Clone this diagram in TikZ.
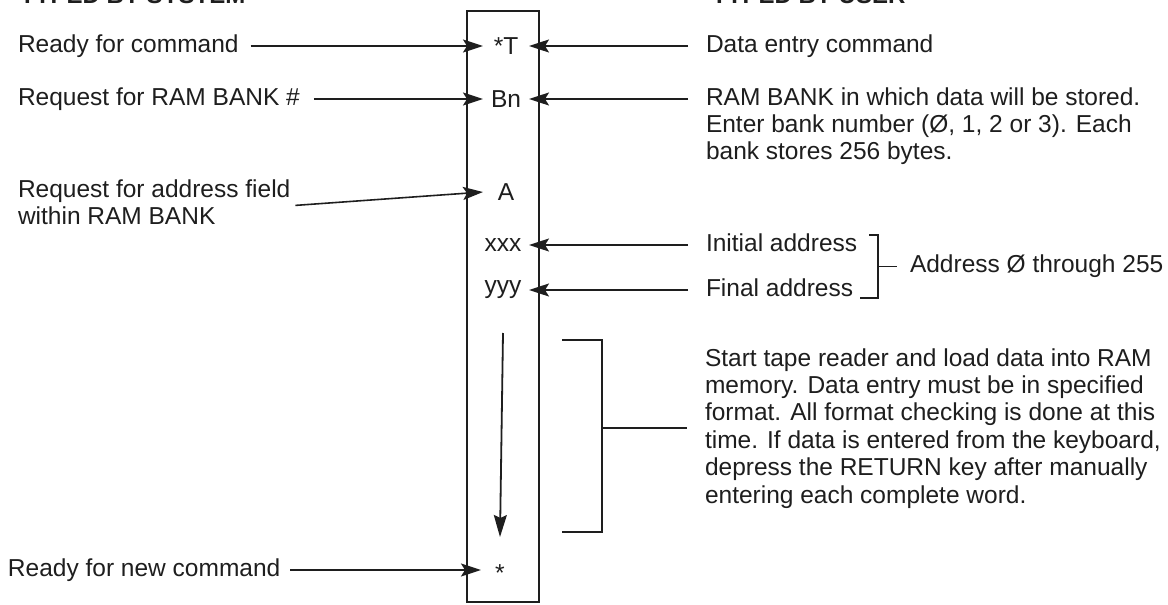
\documentclass[tikz,border=0pt]{standalone}
\usepackage{fontspec}
\setmainfont{Liberation Sans}
\usetikzlibrary{arrows.meta}
\definecolor{ink}{HTML}{1E1E1E}
\newcommand{\fstrut}{\rule{0pt}{19pt}}
\newcommand{\lstrut}{\rule[-8.4pt]{0pt}{8.4pt}}
\begin{document}
\begin{tikzpicture}[x=1pt,y=-1pt,
  every node/.style={inner sep=0pt, outer sep=0pt, text=ink,
    font=\fontsize{24.5}{27.4}\selectfont},
  lbl/.style={anchor=west, text height=18pt, text depth=5.2pt},
  para/.style={anchor=north west, align=left},
  head/.style={anchor=base west, font=\fontsize{24}{27}\selectfont\bfseries},
  colbox/.style={draw=ink, line width=2.4pt, minimum width=72pt, minimum height=591pt},
  conn/.style={draw=ink, line width=1.6pt},
  arr/.style={conn, -{Stealth[length=20pt,width=13pt,inset=4pt]}},
  darr/.style={conn, line width=1.8pt, -{Stealth[length=22pt,width=13pt,inset=3pt]}}
]
\useasboundingbox (0,0) rectangle (1168,605);
\fill[white] (0,0) rectangle (1168,605);
\clip (0,0) rectangle (1168,605);

% headings (cut by the top edge, as in the reference)
\node[head] (hs) at (20,4) {TYPED BY SYSTEM};
\node[head] (hu) at (712,4) {TYPED BY USER};

% column box
\node[colbox] (col) at (503,306.5) {};

% entries in the column
\node (eT) at (506,46) {*T};
\node (eB) at (506,99) {Bn};
\node (eA) at (506,192) {A};
\node (eX) at (503,245) {xxx};
\node (eY) at (503,290) {yyy};
\node (eS) at (500,573) {*};

% arrow tip coordinates
\coordinate (t1) at (483,46);
\coordinate (t2) at (483,99);
\coordinate (t3) at (483,192);
\coordinate (t6) at (481,570);
\coordinate (u1) at (529,46);
\coordinate (u2) at (529,99);
\coordinate (u4) at (529,245);
\coordinate (u5) at (529,290);

% left labels
\node[lbl] (l1) at (18,46) {Ready for command};
\node[lbl] (l2) at (18,99) {Request for RAM BANK \#};
\node[para] (l3) at (18,178) {\fstrut Request for address field\\within RAM BANK\lstrut};
\node[lbl] (l6) at (8,570) {Ready for new command};

% right labels
\node[lbl] (r1) at (706,46) {Data entry command};
\node[para] (r2) at (706,86) {\fstrut RAM BANK in which data will be stored.\\Enter bank number (Ø, 1, 2 or 3). Each\\bank stores 256 bytes.};
\node[lbl] (r4) at (706,245) {Initial address};
\node[lbl] (r5) at (706,290) {Final address};
\node[lbl] (addr) at (910,266.5) {Address Ø through 255};
\node[para] (p) at (705,347) {\fstrut Start tape reader and load data into RAM\\memory. Data entry must be in specified\\format. All format checking is done at this\\time. If data is entered from the keyboard,\\depress the RETURN key after manually\\entering each complete word.\lstrut};

% left connectors
\draw[arr] ([xshift=12pt]l1.east) -- (t1);
\draw[arr] ([xshift=14pt]l2.east) -- (t2);
\draw[arr] ([xshift=5pt]l3.east) -- (t3);
\draw[arr] ([xshift=10pt]l6.east) -- (t6);

% right connectors
\draw[arr] ([xshift=-18pt]r1.west) -- (u1);
\draw[arr] ([xshift=-18pt]r2.north west |- u2) -- (u2);
\draw[arr] ([xshift=-18pt]r4.west) -- (u4);
\draw[arr] ([xshift=-18pt]r5.west) -- (u5);

% down arrow inside the column
\draw[darr] ([yshift=-43pt]eY.center) -- ([yshift=36pt]eS.center);

% address bracket
\coordinate (ab) at (878,266.5);
\draw[conn] (869,235) -| (878,298) -- (860,298);
\draw[conn] (ab) -- ([xshift=-13pt]addr.west |- ab);

% big bracket
\coordinate (bk) at (602,428);
\draw[conn] (562,340) -| (602,532) -- (562,532);
\draw[conn] (bk) -- ([xshift=-18pt]p.west |- bk);
\end{tikzpicture}
\end{document}
